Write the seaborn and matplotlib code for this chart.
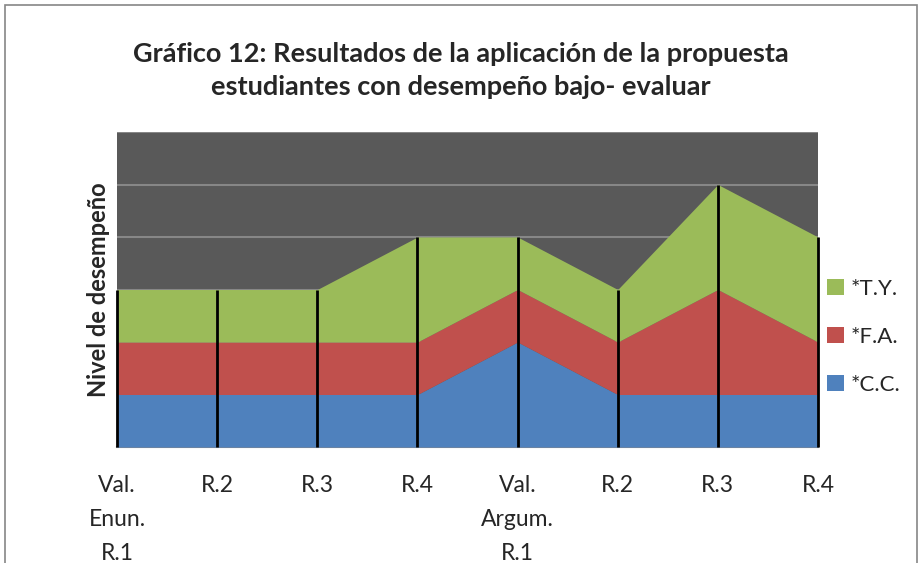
import matplotlib
matplotlib.use('Agg')
import matplotlib.pyplot as plt
import matplotlib.patches as mpatches
import seaborn as sns

# data
categories = ['Val.\nEnun.\nR.1', 'R.2', 'R.3', 'R.4', 'Val.\nArgum.\nR.1', 'R.2', 'R.3', 'R.4']
cc = [1, 1, 1, 1, 2, 1, 1, 1]
fa = [1, 1, 1, 1, 1, 1, 2, 1]
ty = [1, 1, 1, 2, 1, 1, 2, 2]
series_names = ['*C.C.', '*F.A.', '*T.Y.']
colors = ['#4F81BD', '#C0504D', '#9BBB59']

sns.set_style('white')
plt.rcParams['font.family'] = ['Lato', 'DejaVu Sans']

fig = plt.figure(figsize=(9.21, 5.63), dpi=100)
ax = fig.add_axes([117 / 921, 116 / 563, 701 / 921, 315 / 563])
ax.set_facecolor('#595959')

x = list(range(len(categories)))
ax.stackplot(x, cc, fa, ty, colors=colors, labels=series_names, linewidth=0, zorder=3)

# horizontal gridlines behind the stack
for level in range(1, 7):
    ax.axhline(level, color='#878787', lw=1.5, zorder=1)

# drop lines from baseline to top of stack
totals = [a + b + c for a, b, c in zip(cc, fa, ty)]
ax.vlines(x, 0, totals, colors='black', lw=2, zorder=4, clip_on=False)

ax.set_xlim(0, len(categories) - 1)
ax.set_ylim(0, 6)
ax.set_yticks([])
ax.set_xticks(x)
ax.set_xticklabels(categories, fontsize=16.5, linespacing=1.78, va='top')
ax.tick_params(axis='x', length=0, pad=20)
for side in ['top', 'left', 'right']:
    ax.spines[side].set_visible(False)
ax.spines['bottom'].set_color('#878787')
ax.spines['bottom'].set_linewidth(1.5)

ax.set_ylabel('Nivel de desempeño', fontsize=17, fontweight='bold', labelpad=5)

fig.suptitle('Gráfico 12: Resultados de la aplicación de la propuesta\nestudiantes con desempeño bajo- evaluar',
             fontsize=19.5, fontweight='bold', y=0.925, linespacing=1.45)

handles, labels = ax.get_legend_handles_labels()
leg = ax.legend(handles[::-1], labels[::-1], loc='center left', bbox_to_anchor=(1.0, 0.35),
                frameon=False, fontsize=16, handlelength=0.75, handleheight=0.75,
                labelspacing=1.25, handletextpad=0.3, borderaxespad=0.0)

# outer chart frame
fig.patches.append(mpatches.Rectangle((5 / 921, -0.05), 912 / 921, 1.0 - 5 / 563 + 0.05,
                                      transform=fig.transFigure, fill=False,
                                      edgecolor='#868686', lw=1.2))

fig.savefig('out.png', dpi=100)
